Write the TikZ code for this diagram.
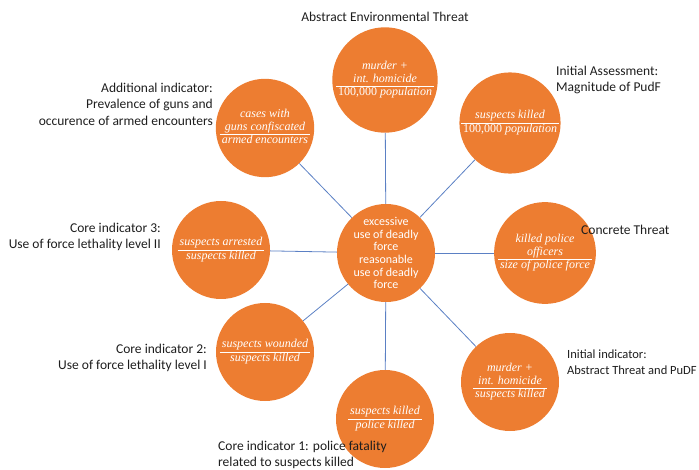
\documentclass[tikz,border=0pt]{standalone}
\usepackage{fontspec}
\setmainfont{Carlito}
\newfontfamily\fracfont{Liberation Serif}
\usetikzlibrary{positioning}
\definecolor{pumpkin}{HTML}{ED7D31}
\definecolor{steel}{HTML}{5B80C4}
\definecolor{ink}{HTML}{1E1E1E}
\newcommand{\ratio}[2]{\begin{tabular}{@{\hspace{2pt}}c@{\hspace{2pt}}}#1\\\hline #2\end{tabular}}

\begin{document}
\begin{tikzpicture}[
  x=1pt, y=-1pt,
  disc/.style={circle, fill=pumpkin, minimum size=98pt, inner sep=0pt, text=white, align=center, font=\fracfont\itshape\fontsize{12}{13}\selectfont},
  hub/.style={disc, font=\fontsize{12}{12.7}\selectfont\upshape},
  lbl/.style={text=ink, inner sep=0pt, font=\fontsize{13.5}{16.5}\selectfont},
  link/.style={steel, line width=0.8pt}
]
\useasboundingbox (0,0) rectangle (699,470);

\node[hub] (hub) at (386,253) {excessive\\use of deadly\\force\\reasonable\\use of deadly\\force};

\node[disc] (top) at (385,80) {\ratio{murder +\\int. homicide}{\upshape 100,000 \itshape population}};
\node[disc] (topr) at (510,123) {\ratio{suspects killed}{\upshape 100,000 \itshape population}};
\node[disc] (rgt) at (545,253) {\ratio{killed police\\officers}{size of police force}};
\node[disc] (botr) at (510,382) {\ratio{murder +\\int. homicide}{suspects killed}};
\node[disc] (bot) at (385,419) {\ratio{suspects killed}{police killed}};
\node[disc] (botl) at (265,352) {\ratio{suspects wounded}{suspects killed}};
\node[disc] (lft) at (221,250) {\ratio{suspects arrested}{suspects killed}};
\node[disc] (topl) at (265,128) {\ratio{cases with\\guns confiscated}{armed encounters}};

% labels
\node[lbl] (ltop) at (385,17) {Abstract Environmental Threat};
\node[lbl, anchor=west, align=left] (ltopr) at (556,80) {Initial Assessment:\\Magnitude of PudF};
\node[lbl, anchor=east, align=right] (ltopl) at (213,104) {Additional indicator:\\Prevalence of guns and\\occurence of armed encounters};
\node[lbl, anchor=west] (lrgt) at (581,230) {Concrete Threat};
\node[lbl, anchor=east, align=right] (llft) at (161,237) {Core indicator 3:\\Use of force lethality level II};
\node[lbl, anchor=east, align=right] (lbotl) at (207,358) {Core indicator 2:\\Use of force lethality level I};
\node[lbl, anchor=west, align=left, font=\fontsize{12.5}{16.5}\selectfont] (lbotr) at (567,362) {Initial indicator:\\Abstract Threat and PuDF};
\node[lbl, anchor=west, align=left] (lbot) at (218,455) {Core indicator 1: police fatality\\related to suspects killed};

\foreach \d in {top,topr,rgt,botr,bot,botl,lft,topl}
  \draw[link] (hub) -- (\d);
\end{tikzpicture}
\end{document}
